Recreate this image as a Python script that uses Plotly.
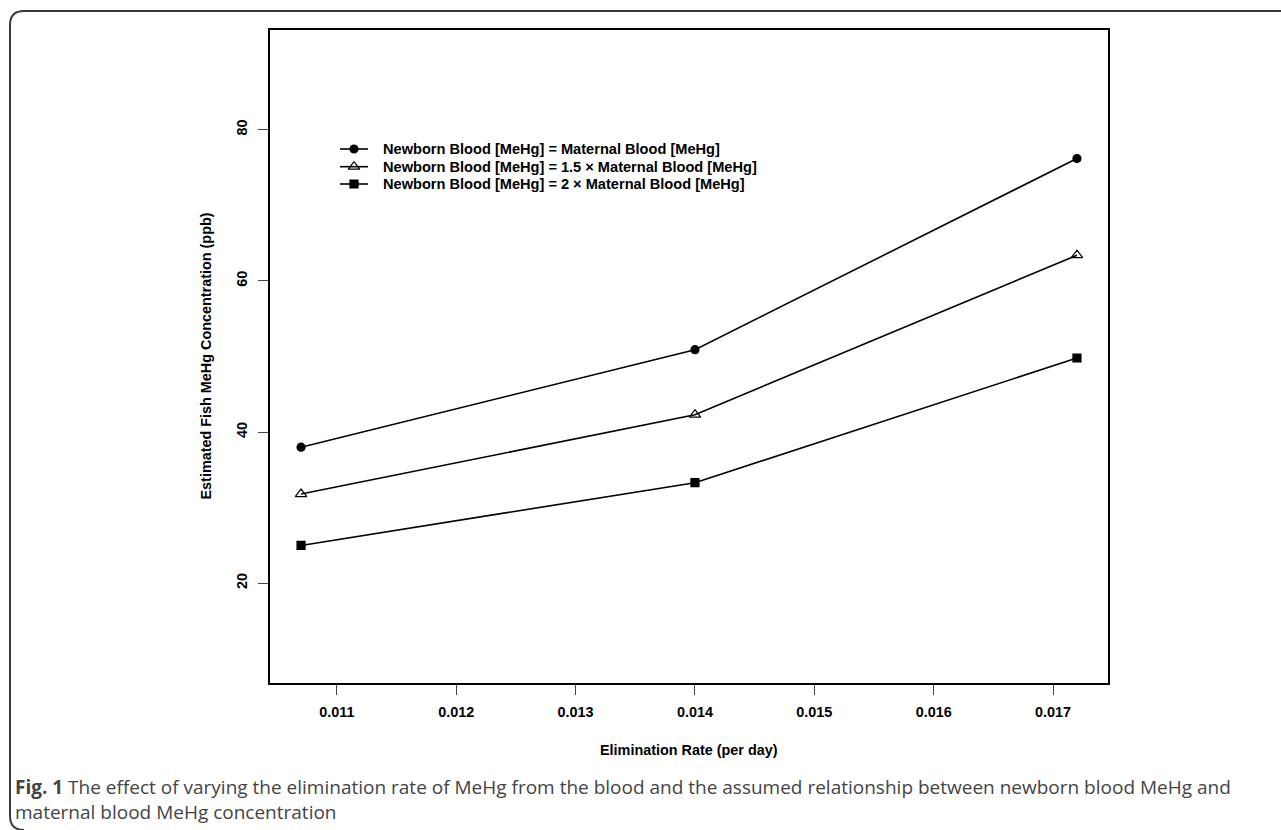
import plotly.graph_objects as go

# ---- data ----
elimination_rate = [0.0107, 0.0140, 0.0172]
equal_conc = [38.0, 50.9, 76.2]
conc_1_5x = [31.8, 42.3, 63.4]
conc_2x = [25.0, 33.3, 49.8]
series_names = [
    "Newborn Blood [MeHg] = Maternal Blood [MeHg]",
    "Newborn Blood [MeHg] = 1.5 × Maternal Blood [MeHg]",
    "Newborn Blood [MeHg] = 2 × Maternal Blood [MeHg]",
]
x_ticks = [0.011, 0.012, 0.013, 0.014, 0.015, 0.016, 0.017]
x_tick_labels = ["0.011", "0.012", "0.013", "0.014", "0.015", "0.016", "0.017"]
y_ticks = [20, 40, 60, 80]
y_tick_labels = ["20", "40", "60", "80"]
x_title = "Elimination Rate (per day)"
y_title = "Estimated Fish MeHg Concentration (ppb)"
caption_1 = ("<b>Fig. 1</b> The effect of varying the elimination rate of MeHg from the blood and the "
             "assumed relationship between newborn blood MeHg and")
caption_2 = "maternal blood MeHg concentration"

# ---- layout geometry (pixels) ----
W, H = 1281, 830
L, R, T, B = 270, 1108, 30, 683
PW, PH = R - L, B - T


def px(x):
    return (x - L) / PW


def py(y):
    return (B - y) / PH


AX_FONT = dict(family="Liberation Sans, Arial, sans-serif", size=14.4, color="black", weight="bold")
LEG_FONT = dict(family="Liberation Sans, Arial, sans-serif", size=14.6, color="black", weight="bold")

fig = go.Figure()
symbols = ["circle", "triangle-up-open", "square"]
sizes = [8, 10, 8]
all_series = [equal_conc, conc_1_5x, conc_2x]
for name, vals, sym, sz in zip(series_names, all_series, symbols, sizes):
    fig.add_trace(go.Scatter(
        x=elimination_rate, y=vals, name=name, mode="lines+markers",
        line=dict(color="black", width=1.6), showlegend=False,
        marker=dict(symbol=sym, size=sz, color="black", line=dict(color="black", width=1.2)),
    ))

# ---- hand-built legend (R style) on a pixel-unit overlay axis ----
LEG_ROWS = [149, 166.7, 184]
LEG_LINE = (340, 368)
LEG_TEXT_X = 381
for name, sym, sz, ry in zip(series_names, symbols, sizes, LEG_ROWS):
    fig.add_trace(go.Scatter(
        x=[LEG_LINE[0], LEG_LINE[1]], y=[ry, ry], mode="lines", xaxis="x2", yaxis="y2",
        line=dict(color="black", width=1.6), showlegend=False, hoverinfo="skip"))
    fig.add_trace(go.Scatter(
        x=[(LEG_LINE[0] + LEG_LINE[1]) / 2], y=[ry], mode="markers", xaxis="x2", yaxis="y2",
        marker=dict(symbol=sym, size=sz, color="black", line=dict(color="black", width=1.2)),
        showlegend=False, hoverinfo="skip"))
    fig.add_annotation(x=LEG_TEXT_X, y=ry, xref="x2", yref="y2", text=name, showarrow=False,
                       xanchor="left", yanchor="middle", font=LEG_FONT)

fig.update_layout(
    width=W, height=H,
    margin=dict(l=L, r=W - R, t=T, b=H - B, pad=0),
    paper_bgcolor="white", plot_bgcolor="white",
    showlegend=False,
    xaxis=dict(range=[0.01044, 0.01746], tickvals=x_ticks, ticktext=x_tick_labels,
               showline=True, mirror=True, linecolor="black", linewidth=2,
               ticks="outside", ticklen=10, tickwidth=1, tickcolor="#444",
               showgrid=False, zeroline=False, tickfont=AX_FONT, ticklabelstandoff=5),
    yaxis=dict(range=[6.8, 93.2], tickvals=y_ticks, ticktext=y_tick_labels, tickangle=-90,
               showline=True, mirror=True, linecolor="black", linewidth=2,
               ticks="outside", ticklen=10, tickwidth=1, tickcolor="#444",
               showgrid=False, zeroline=False, tickfont=AX_FONT, ticklabelstandoff=5),
    xaxis2=dict(range=[L, R], overlaying="x", anchor="y2", visible=False, fixedrange=True),
    yaxis2=dict(range=[B, T], overlaying="y", anchor="x2", visible=False, fixedrange=True),
)

# axis titles
fig.add_annotation(x=px((L + R) / 2), y=py(750), xref="paper", yref="paper", text=x_title,
                   showarrow=False, xanchor="center", yanchor="middle", font=AX_FONT)
fig.add_annotation(x=px(205), y=py((T + B) / 2), xref="paper", yref="paper", text=y_title,
                   showarrow=False, xanchor="center", yanchor="middle", textangle=-90, font=AX_FONT)

# caption
CAP_FONT = dict(family="Open Sans, Noto Sans, sans-serif", size=19, color="#444444")
fig.add_annotation(x=px(13), y=py(787), xref="paper", yref="paper", text=caption_1,
                   showarrow=False, xanchor="left", yanchor="middle", font=CAP_FONT)
fig.add_annotation(x=px(13), y=py(812), xref="paper", yref="paper", text=caption_2,
                   showarrow=False, xanchor="left", yanchor="middle", font=CAP_FONT)

# rounded figure frame (top + left edges)
path = (f"M {px(1281)},{py(11)} L {px(24)},{py(11)} Q {px(10)},{py(11)} {px(10)},{py(25)} "
        f"L {px(10)},{py(816)} Q {px(10)},{py(830)} {px(24)},{py(830)}")
fig.add_shape(type="path", path=path, xref="paper", yref="paper",
              line=dict(color="#3a3a3a", width=2))

fig.write_html("out.html", config={"displayModeBar": False},
               post_script="document.body.style.margin='0';document.body.style.overflow='hidden';")
